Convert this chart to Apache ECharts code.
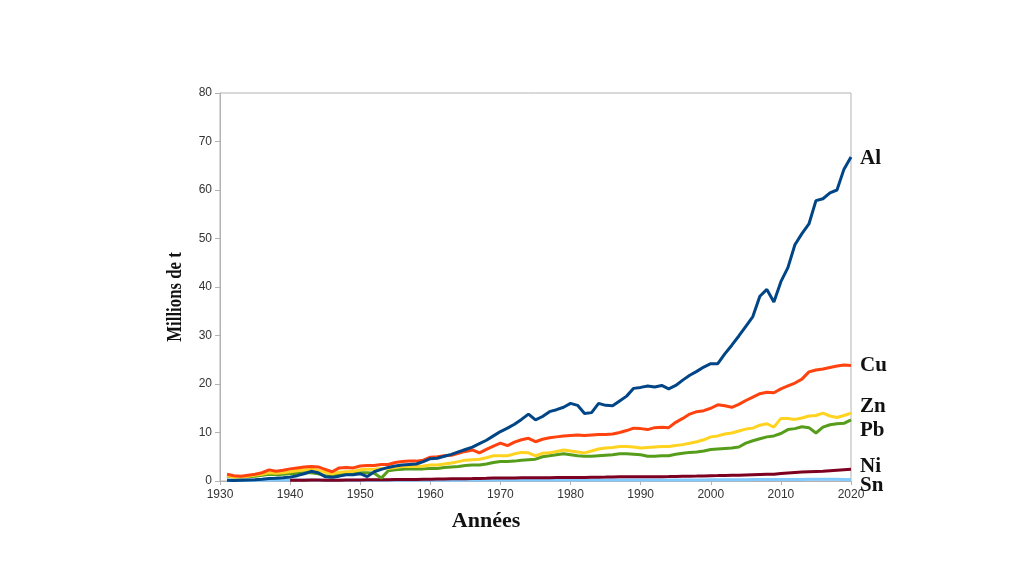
<!DOCTYPE html>
<html><head><meta charset="utf-8">
<script src="https://cdn.jsdelivr.net/npm/echarts@6/dist/echarts.min.js"></script>
<style>html,body{margin:0;padding:0;background:#fff}#c{width:1024px;height:576px}</style>
</head><body><div id="c"></div>
<script>
var startYear = 1931;
var nickelStart = 1940;
var xTicks = [1930, 1940, 1950, 1960, 1970, 1980, 1990, 2000, 2010, 2020];
var yTicks = [0, 10, 20, 30, 40, 50, 60, 70, 80];
var seriesNames = ['Al', 'Cu', 'Zn', 'Pb', 'Ni', 'Sn'];
var xTitle = 'Années';
var yTitle = 'Millions de t';

var al = [0.15,0.1,0.15,0.2,0.25,0.35,0.5,0.55,0.65,0.8,
  1.1,1.5,2.0,1.7,0.9,0.75,1.0,1.3,1.3,1.5,
  0.9,1.9,2.4,2.8,3.1,3.3,3.4,3.5,4.0,4.6,
  4.7,5.1,5.5,6.0,6.5,7.0,7.7,8.4,9.3,10.2,
  10.9,11.7,12.7,13.8,12.6,13.3,14.3,14.7,15.2,16.0,
  15.6,13.9,14.1,16.0,15.6,15.5,16.5,17.5,19.1,19.3,
  19.6,19.4,19.7,19.0,19.7,20.8,21.8,22.6,23.5,24.2,
  24.2,26.2,28.0,29.9,31.9,33.9,38.1,39.5,36.9,41.1,
  44.0,48.7,51.0,53.0,57.8,58.2,59.4,60.0,64.3,66.8];
var cu = [1.4,1.1,1.0,1.2,1.4,1.7,2.3,2.0,2.2,2.5,
  2.7,2.9,3.0,2.9,2.4,1.9,2.7,2.8,2.7,3.1,
  3.2,3.2,3.4,3.4,3.8,4.0,4.1,4.1,4.3,4.9,
  5.0,5.2,5.3,5.7,6.1,6.4,5.8,6.5,7.2,7.8,
  7.3,8.0,8.5,8.8,8.1,8.6,8.9,9.1,9.3,9.4,
  9.5,9.4,9.5,9.6,9.6,9.7,10.0,10.4,10.9,10.8,
  10.6,11.0,11.1,11.0,12.1,12.9,13.8,14.3,14.5,15.0,
  15.7,15.5,15.2,15.8,16.6,17.3,18.0,18.3,18.2,19.0,
  19.6,20.2,21.0,22.5,22.9,23.1,23.4,23.7,23.9,23.8];
var zn = [1.1,0.8,0.9,1.0,1.2,1.4,1.7,1.6,1.7,1.9,
  2.1,2.3,2.4,2.2,1.8,1.5,1.8,1.9,2.0,2.3,
  2.4,2.4,2.6,2.6,2.8,3.0,3.0,3.0,3.1,3.3,
  3.3,3.5,3.7,4.0,4.3,4.4,4.5,4.8,5.2,5.2,
  5.2,5.6,5.9,5.8,5.2,5.7,5.8,6.1,6.4,6.2,
  6.0,5.8,6.2,6.6,6.8,6.9,7.1,7.1,7.0,6.8,
  6.9,7.0,7.1,7.1,7.3,7.5,7.8,8.1,8.5,9.1,
  9.3,9.7,9.9,10.3,10.7,10.9,11.5,11.8,11.1,12.9,
  12.9,12.7,13.0,13.4,13.5,14.0,13.4,13.1,13.5,14.0];
var pb = [1.0,0.8,0.8,0.9,1.0,1.2,1.4,1.3,1.4,1.5,
  1.6,1.7,1.7,1.5,1.1,1.0,1.3,1.4,1.5,1.7,
  1.7,1.6,0.6,2.1,2.3,2.4,2.5,2.5,2.5,2.6,
  2.6,2.8,2.9,3.0,3.2,3.3,3.3,3.5,3.8,4.0,
  4.0,4.1,4.3,4.4,4.5,5.0,5.2,5.4,5.6,5.4,
  5.2,5.1,5.1,5.2,5.3,5.4,5.6,5.6,5.5,5.4,
  5.1,5.1,5.2,5.2,5.5,5.7,5.9,6.0,6.2,6.5,
  6.6,6.7,6.8,7.0,7.8,8.3,8.7,9.1,9.3,9.8,
  10.6,10.8,11.2,11.0,9.9,11.1,11.6,11.8,11.9,12.6];
var ni = [0.15,0.15,0.18,0.2,0.2,0.18,0.18,0.18,0.2,0.2,
  0.22,0.24,0.25,0.26,0.28,0.3,0.3,0.3,0.32,0.35,
  0.37,0.4,0.42,0.44,0.46,0.48,0.5,0.53,0.56,0.6,
  0.62,0.63,0.64,0.65,0.66,0.67,0.68,0.69,0.7,0.7,
  0.71,0.72,0.73,0.75,0.77,0.8,0.85,0.9,0.9,0.88,
  0.88,0.88,0.9,0.9,0.92,0.95,0.98,1.0,1.02,1.05,
  1.1,1.12,1.15,1.18,1.2,1.25,1.3,1.35,1.4,1.4,
  1.55,1.65,1.75,1.85,1.9,1.95,2.0,2.1,2.2,2.3,
  2.4];
var sn = [0.15,0.14,0.15,0.16,0.17,0.18,0.2,0.2,0.2,0.2,
  0.2,0.2,0.2,0.18,0.15,0.16,0.17,0.17,0.17,0.17,
  0.18,0.18,0.18,0.18,0.18,0.18,0.18,0.17,0.18,0.18,
  0.18,0.18,0.18,0.18,0.19,0.19,0.19,0.2,0.2,0.2,
  0.2,0.2,0.2,0.2,0.2,0.2,0.2,0.2,0.2,0.2,
  0.2,0.2,0.2,0.2,0.2,0.2,0.2,0.2,0.22,0.22,
  0.2,0.2,0.2,0.2,0.2,0.2,0.21,0.22,0.23,0.25,
  0.25,0.25,0.26,0.27,0.28,0.29,0.3,0.3,0.3,0.3,
  0.3,0.32,0.33,0.34,0.34,0.34,0.34,0.34,0.33,0.3];

function pairs(arr, y0) { return arr.map(function (v, i) { return [y0 + i, v]; }); }
var colors = ['#004586', '#ff420e', '#ffd320', '#579d1c', '#7e0021', '#83caff'];
var dataSets = [pairs(al, startYear), pairs(cu, startYear), pairs(zn, startYear), pairs(pb, startYear), pairs(ni, nickelStart), pairs(sn, startYear)];
var order = [5, 4, 3, 2, 1, 0];
var series = order.map(function (k) {
  return { name: seriesNames[k], type: 'line', data: dataSets[k], showSymbol: false,
    lineStyle: { color: colors[k], width: 3 }, itemStyle: { color: colors[k] }, z: 2 + (5 - k), animation: false };
});

var serif = '"Liberation Serif", "DejaVu Serif", serif';
var labelTop = { Al: 148, Cu: 355, Zn: 396, Pb: 420, Ni: 456, Sn: 475 };
var graphics = seriesNames.map(function (n) {
  return { type: 'text', left: 860, top: labelTop[n], z: 100,
    style: { text: n, font: 'bold 21px ' + serif, fill: '#111' } };
});
graphics.push({ type: 'text', x: 486, y: 521, z: 100,
  style: { text: xTitle, font: 'bold 22px ' + serif, fill: '#111', align: 'center', verticalAlign: 'middle' } });
graphics.push({ type: 'text', x: 176, y: 297, rotation: Math.PI / 2, scaleX: 0.8, z: 100,
  style: { text: yTitle, font: 'bold 21px ' + serif, fill: '#111', align: 'center', verticalAlign: 'middle' } });

var chart = echarts.init(document.getElementById('c'));
chart.setOption({
  animation: false,
  grid: { left: 220, right: 173, top: 93, bottom: 95, show: true, borderColor: '#b3b3b3', borderWidth: 1, backgroundColor: 'transparent' },
  xAxis: { type: 'value', min: xTicks[0], max: xTicks[xTicks.length - 1], interval: 10,
    axisLine: { show: true, lineStyle: { color: '#b3b3b3' } },
    axisTick: { show: true, length: 4, lineStyle: { color: '#b3b3b3' } },
    axisLabel: { color: '#333', fontFamily: 'Liberation Sans', fontSize: 12, margin: 8, formatter: function (v) { return String(v); } },
    splitLine: { show: false } },
  yAxis: { type: 'value', min: yTicks[0], max: yTicks[yTicks.length - 1], interval: 10,
    axisLine: { show: true, lineStyle: { color: '#b3b3b3' } },
    axisTick: { show: true, length: 5, lineStyle: { color: '#b3b3b3' } },
    axisLabel: { color: '#333', fontFamily: 'Liberation Sans', fontSize: 12, margin: 8 },
    splitLine: { show: false } },
  graphic: graphics,
  series: series
});
</script></body></html>
